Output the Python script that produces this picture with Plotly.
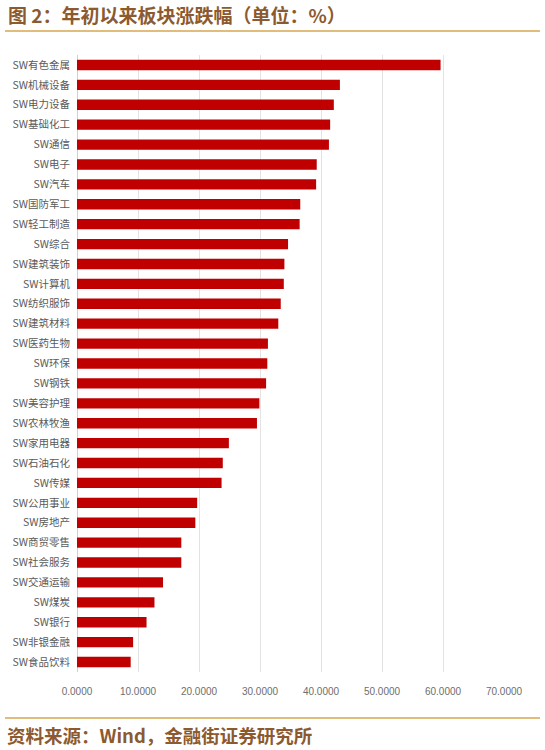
import plotly.graph_objects as go

categories = ["SW有色金属", "SW机械设备", "SW电力设备", "SW基础化工", "SW通信", "SW电子", "SW汽车",
              "SW国防军工", "SW轻工制造", "SW综合", "SW建筑装饰", "SW计算机", "SW纺织服饰", "SW建筑材料",
              "SW医药生物", "SW环保", "SW钢铁", "SW美容护理", "SW农林牧渔", "SW家用电器", "SW石油石化",
              "SW传媒", "SW公用事业", "SW房地产", "SW商贸零售", "SW社会服务", "SW交通运输", "SW煤炭",
              "SW银行", "SW非银金融", "SW食品饮料"]
values = [59.6, 43.1, 42.1, 41.5, 41.3, 39.3, 39.2,
          36.6, 36.5, 34.6, 34.0, 33.9, 33.4, 33.0,
          31.3, 31.2, 31.0, 29.9, 29.5, 24.9, 23.9,
          23.7, 19.7, 19.4, 17.1, 17.1, 14.1, 12.7,
          11.4, 9.2, 8.8]
xticks = [0, 10, 20, 30, 40, 50, 60, 70]

title_text = "图 2：年初以来板块涨跌幅（单位：%）"
source_text = "资料来源：Wind，金融街证券研究所"

W, H = 545, 750
L, R, T, B = 77, 41, 55, 78
pw, ph = W - L - R, H - T - B

def px(x):
    return (x - L) / pw

def py(y):
    return (H - B - y) / ph

fig = go.Figure(go.Bar(
    x=values, y=categories, orientation="h",
    marker=dict(color="#C00000", line=dict(width=0)),
    width=0.52,
))

brown = "#8C5A2E"
gold = "#D9A64E"
cjk = "Noto Sans CJK SC"

fig.update_layout(
    width=W, height=H,
    margin=dict(l=L, r=R, t=T, b=B, pad=0),
    paper_bgcolor="white", plot_bgcolor="white",
    showlegend=False,
    font=dict(family=cjk, color="#595959"),
    xaxis=dict(
        range=[0, 70], tickvals=xticks, tickformat=".4f",
        showgrid=True, gridcolor="#E3E3E3", gridwidth=1,
        zeroline=True, zerolinecolor="#D0D0D0", zerolinewidth=1,
        showline=False, ticks="",
        tickfont=dict(size=10, color="#6E6E6E", family="Liberation Sans"),
        ticklabelstandoff=12,
    ),
    yaxis=dict(
        autorange="reversed", showgrid=False, ticks="",
        tickfont=dict(size=10.5, color="#5A5A5A", family=cjk),
        ticklabelstandoff=6,
    ),
    shapes=[
        dict(type="line", xref="paper", yref="paper",
             x0=px(5), x1=px(540), y0=py(31), y1=py(31),
             line=dict(color=gold, width=1.5)),
        dict(type="line", xref="paper", yref="paper",
             x0=px(5), x1=px(540), y0=py(718), y1=py(718),
             line=dict(color=gold, width=1.5)),
    ],
    annotations=[
        dict(text="<b>" + title_text + "</b>", xref="paper", yref="paper",
             x=px(6), y=py(15), xanchor="left", yanchor="middle", showarrow=False,
             font=dict(size=19, color=brown, family=cjk)),
        dict(text="<b>" + source_text + "</b>", xref="paper", yref="paper",
             x=px(5), y=py(735), xanchor="left", yanchor="middle", showarrow=False,
             font=dict(size=18.5, color=brown, family=cjk)),
    ],
)

fig.write_html("out.html")
